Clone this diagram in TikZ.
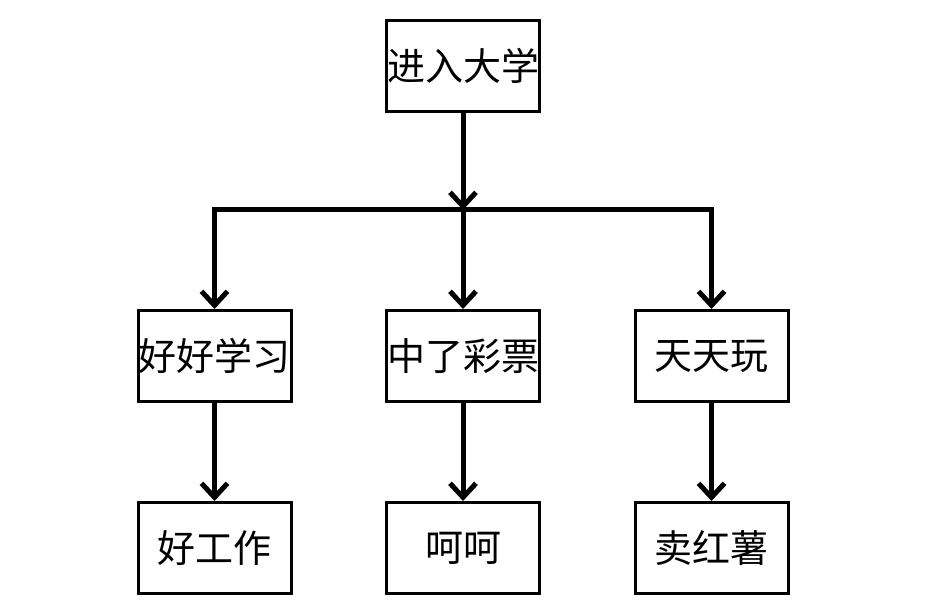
\documentclass[tikz,border=0pt]{standalone}
\usepackage{fontspec}
\newfontfamily\cjk{Noto Sans CJK SC}
\usetikzlibrary{arrows.meta}
\begin{document}
\begin{tikzpicture}[x=1pt,y=1pt,
  box/.style={draw=black,line width=3pt,minimum width=153pt,minimum height=91pt,inner sep=0pt,font=\cjk\fontsize{38}{42}\selectfont,fill=white},
  link/.style={line width=5pt,-{Straight Barb[length=14pt,width=26pt,line width=5pt]}},
  bar/.style={line width=5pt}]
\useasboundingbox (0,0) rectangle (936,609);
\node[box] (top) at (463,543) {进入大学};
\node[box] (m1) at (214.5,253) {好好学习};
\node[box] (m2) at (463,253) {中了彩票};
\node[box] (m3) at (711.5,253) {天天玩};
\node[box] (b1) at (214.5,61) {好工作};
\node[box] (b2) at (463,61) {呵呵};
\node[box] (b3) at (711.5,61) {卖红薯};
\coordinate (j) at (463,399);
\coordinate (jl) at (214.5,399);
\coordinate (jr) at (711.5,399);
\draw[link] (top.south) -- (j);
\draw[bar] ([xshift=-2.5pt]jl) -- ([xshift=2.5pt]jr);
\draw[link] (jl) -- (m1.north);
\draw[link] (j) -- (m2.north);
\draw[link] (jr) -- (m3.north);
\draw[link] (m1.south) -- (b1.north);
\draw[link] (m2.south) -- (b2.north);
\draw[link] (m3.south) -- (b3.north);
\end{tikzpicture}
\end{document}
